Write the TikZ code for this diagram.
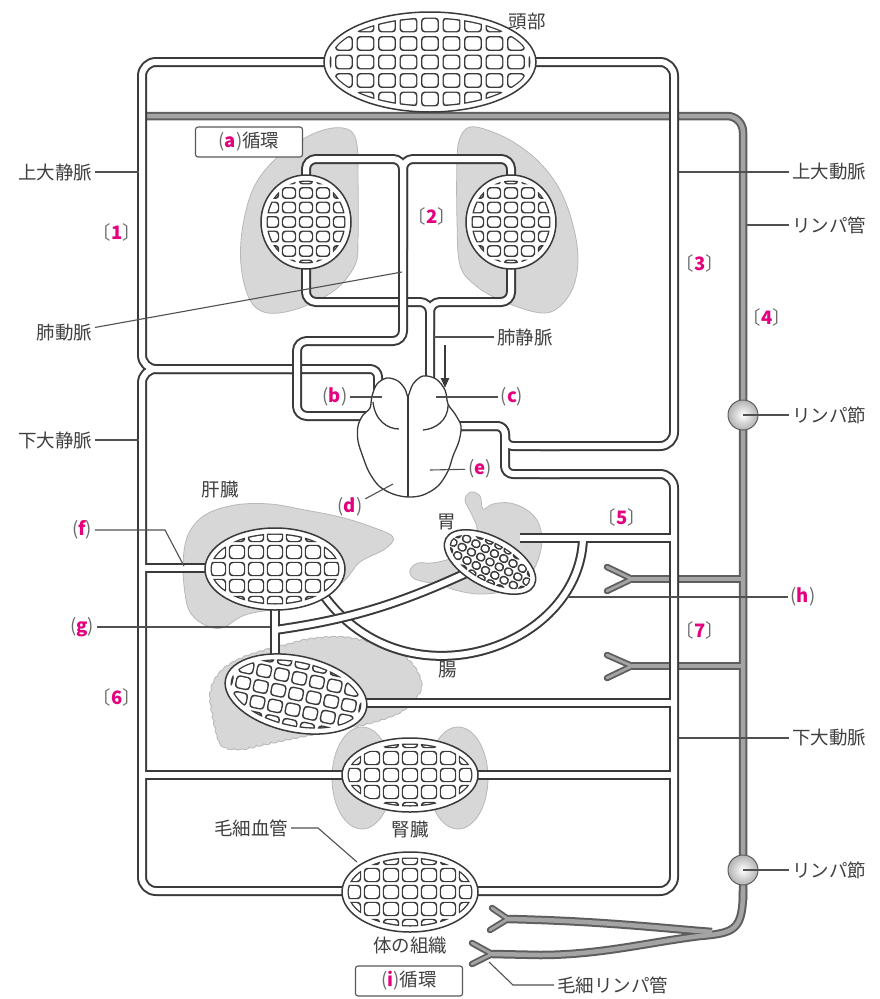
\documentclass[tikz,border=0pt]{standalone}
\usepackage{fontspec}
\newfontfamily\jp{Noto Sans CJK JP}
\usetikzlibrary{arrows.meta,decorations.pathmorphing}

\definecolor{ink}{HTML}{3A3A3A}
\definecolor{txt}{HTML}{404040}
\definecolor{brk}{HTML}{6A6A6A}
\definecolor{mag}{HTML}{E4007F}
\definecolor{organfill}{HTML}{D7D7D7}
\definecolor{organedge}{HTML}{B8B8B8}
\definecolor{lymphin}{HTML}{A4A4A4}
\definecolor{lymphout}{HTML}{5E5E5E}
\definecolor{leadc}{HTML}{505050}

\tikzset{
  tubeout/.style={draw=ink,line width=10pt,line join=round},
  tubein/.style={draw=white,line width=6pt,line join=round},
  lyout/.style={draw=lymphout,line width=8.5pt,line join=round},
  lyin/.style={draw=lymphin,line width=4.5pt,line join=round},
  armout/.style={draw=lymphout,line width=6.5pt,line cap=round,line join=round},
  armin/.style={draw=lymphin,line width=2.8pt,line cap=round,line join=round},
  organ/.style={fill=organfill,draw=organedge,line width=0.8pt},
  lead/.style={draw=leadc,line width=1.1pt},
  lbl/.style={font=\jp\fontsize{18.5}{20}\selectfont,text=txt,inner sep=0pt,outer sep=3pt},
  frame/.style={draw=ink!85,line width=1.1pt,rounded corners=2.5pt,fill=white,
    minimum width=107pt,minimum height=30pt,inner sep=0pt,
    font=\jp\fontsize{18.5}{20}\selectfont,text=txt},
  lnode/.style={circle,minimum size=30pt,inner sep=0pt,shading=radial,
    inner color=white,outer color=gray!60,draw=lymphout,line width=1pt},
}
% bracketed tag: grey brackets, magenta number
\newcommand\tg[1]{{\color{brk}〔}{\color{mag}\bfseries #1}{\color{brk}〕}}
\newcommand\lt[1]{{\color{brk}(}{\color{mag}\bfseries #1}{\color{brk})}}

% capillary bed: #1,#2 centre, #3 rotation, #4,#5 radii, #6,#7 pitch, #8,#9 cell size
\newcommand{\capnet}[9]{%
  \begin{scope}[shift={(#1,#2)},rotate=#3]
    \fill[white] (0,0) ellipse ({#4} and {#5});
    \begin{scope}
      \clip (0,0) ellipse ({#4-5.5} and {#5-5.5});
      \foreach \i in {-7,...,7}{\foreach \j in {-5,...,5}{
        \fill[ink,rounded corners=3.5pt] ({\i*#6-#8/2-0.7},{\j*#7-#9/2-0.7}) rectangle ++({#8+1.4},{#9+1.4});}}
    \end{scope}
    \begin{scope}
      \clip (0,0) ellipse ({#4-6.9} and {#5-6.9});
      \foreach \i in {-7,...,7}{\foreach \j in {-5,...,5}{
        \fill[white,rounded corners=3pt] ({\i*#6-#8/2+0.7},{\j*#7-#9/2+0.7}) rectangle ++({#8-1.4},{#9-1.4});}}
    \end{scope}
    \draw[ink,line width=1.5pt] (0,0) ellipse ({#4} and {#5});
  \end{scope}}

\begin{document}
\begin{tikzpicture}[x=1pt,y=-1pt]
\useasboundingbox (0,0) rectangle (879,999);
\fill[white] (0,0) rectangle (879,999);

% ---------- organs (grey) ----------
% lungs
\draw[organ] plot[smooth cycle,tension=0.6] coordinates {(343,128) (356,140) (358,180) (358,240) (355,265) (335,290) (300,308) (268,313) (250,300) (241,265) (243,225) (255,185) (280,155) (315,133)};
\draw[organ] plot[smooth cycle,tension=0.6] coordinates {(470,127) (490,131) (515,143) (540,163) (560,190) (573,225) (578,260) (572,290) (555,310) (535,312) (500,300) (475,285) (460,265) (457,220) (457,160) (460,138)};
% liver
\draw[organ] plot[smooth cycle,tension=0.6] coordinates {(186,600) (183,565) (188,535) (205,515) (235,505) (270,504) (305,510) (340,517) (372,527) (393,537) (385,549) (360,562) (345,580) (320,598) (280,608) (245,615) (222,628) (205,625) (192,615)};
% stomach
\draw[organ] plot[smooth cycle,tension=0.6] coordinates {(465,500) (471,492) (480,496) (483,509) (493,504) (510,503) (527,510) (538,522) (542,540) (538,560) (528,578) (510,590) (480,594) (455,590) (440,584) (425,582) (413,578) (410,570) (418,563) (432,563) (452,558) (468,546) (477,530) (472,515)};
% intestine
\draw[organ,decorate,decoration={bumps,segment length=15pt,amplitude=1.8pt}] plot[smooth cycle,tension=0.6] coordinates {(213,712) (212,690) (222,672) (240,660) (262,652) (285,646) (310,640) (340,638) (365,642) (385,648) (403,657) (415,670) (420,686) (412,700) (398,712) (370,722) (330,730) (290,738) (262,744) (240,748) (222,743)};
% kidney
\draw[organ] (362,778) ellipse (30 and 51);
\draw[organ] (458,778) ellipse (30 and 51);

% ---------- lymph vessels ----------
\foreach \a/\b in {lyout/armout,lyin/armin}{
  \draw[\a,rounded corners=16pt] (147,116) -- (743,116) -- (743,900);
  \draw[\a] (743,890) .. controls (743,930) and (735,933) .. (700,936) .. controls (650,942) and (600,955) .. (540,955) -- (492,954);
  \draw[\a] (712,932) .. controls (660,928) and (600,921) .. (508,919);
  \draw[\a] (743,579) -- (632,579);
  \draw[\a] (743,666) -- (632,666);
  \draw[\b] (607,567) -- (632,579) -- (607,591);
  \draw[\b] (607,655) -- (632,666) -- (607,678);
  \draw[\b] (492,908) -- (508,919) -- (490,930);
  \draw[\b] (472,943) -- (492,954) -- (472,964);
}

% ---------- pulmonary veins ----------
\foreach \st in {tubeout,tubein}{
  \draw[\st,rounded corners=10pt] (306,222) -- (306,302) -- (430,302) -- (430,392);
  \draw[\st,rounded corners=10pt] (511,222) -- (511,302) -- (430,302) -- (430,330);
}

% ---------- systemic circulation ----------
\foreach \st in {tubeout,tubein}{
  \draw[\st,rounded corners=14pt] (430,62) -- (142,62) -- (142,369) -- (300,369);
  \draw[\st,rounded corners=8pt] (290,369) -- (378,369) -- (378,395);
  \draw[\st,rounded corners=14pt] (300,369) -- (142,369) -- (142,891) -- (410,891);
  \draw[\st,rounded corners=8pt] (448,426) -- (505,426) -- (505,446) -- (560,446);
  \draw[\st,rounded corners=14pt] (540,446) -- (674,446) -- (674,62) -- (430,62);
  \draw[\st,rounded corners=8pt] (448,426) -- (505,426) -- (505,474) -- (560,474);
  \draw[\st,rounded corners=14pt] (540,474) -- (674,474) -- (674,891) -- (410,891);
  \draw[\st] (142,568) -- (275,568);
  \draw[\st] (142,775) -- (674,775);
  \draw[\st] (330,703) -- (674,703);
  \draw[\st] (520,538) -- (674,538);
  \draw[\st] (583,538) .. controls (580,650) and (400,710) .. (320,590);
  \draw[\st] (275,569) -- (275,696);
}

% ---------- pulmonary artery ----------
\foreach \st in {tubeout,tubein}{
  \draw[\st,rounded corners=10pt] (372,416) -- (297,416) -- (297,341) -- (403,341) -- (403,159) -- (306,159) -- (306,222);
  \draw[\st,rounded corners=10pt] (403,250) -- (403,159) -- (511,159) -- (511,222);
}

% ---------- stomach to portal vein ----------
\foreach \st in {tubeout,tubein}{
  \draw[\st] (275,630) .. controls (360,618) and (410,600) .. (490,562);
}
\draw[tubein] (275,600) -- (275,660);

% ---------- capillary beds ----------
\capnet{430}{62}{0}{106}{50}{21.5}{18.5}{16.5}{13.5}
\capnet{306}{222}{0}{45}{47}{17}{14.5}{13}{10.5}
\capnet{511}{222}{0}{45}{47}{17}{14.5}{13}{10.5}
\capnet{275}{569}{0}{70}{41}{19}{17}{15}{13}
\capnet{490}{562}{-28}{50}{25}{10.5}{9.5}{8}{7}
\capnet{296}{694}{-12}{72}{38}{18}{16}{14}{12}
\capnet{410}{775}{0}{68}{37}{19}{17}{15}{13}
\capnet{410}{892}{0}{68}{40}{19}{17}{15}{13}

% ---------- heart ----------
\draw[ink,line width=1.3pt,fill=white] plot[smooth cycle,tension=0.55] coordinates {(408,396) (413,384) (423,376) (436,379) (445,390) (448,404) (455,414) (461,426) (459,441) (453,456) (448,471) (438,486) (423,495) (408,497) (393,494) (379,486) (369,472) (363,457) (358,441) (358,426) (363,415) (370,408) (372,396) (377,384) (387,378) (398,381) (405,389)};
\draw[ink,line width=1.3pt] (408,396) -- (408,497);
\draw[ink,line width=1.3pt] (373,402) .. controls (375,421) and (388,429) .. (399,429);
\draw[ink,line width=1.3pt] (448,405) .. controls (448,421) and (435,429) .. (423,430);
\coordinate (arS) at (445,345);
\coordinate (arE) at (445,388);
\draw[ink,line width=2.3pt,-{Triangle[length=10pt,width=8pt]}] (arS) -- (arE);

% ---------- lymph nodes ----------
\node[lnode] (ln1) at (743,415) {};
\node[lnode] (ln2) at (743,870) {};

% ---------- labels ----------
\node[lbl] (head) at (527,22) {頭部};
\node[frame] (boxa) at (249,142) {\lt{a}循環};
\node[frame] (boxi) at (409,981) {\lt{i}循環};

\node[lbl,anchor=east] (lsvc) at (95,172) {上大静脈};
\coordinate (tsvc) at (139,172); \draw[lead] (lsvc) -- (tsvc);
\node[lbl,anchor=east] (livc) at (95,440) {下大静脈};
\coordinate (tivc) at (139,440); \draw[lead] (livc) -- (tivc);
\node[lbl,anchor=east] (lpa) at (95,333) {肺動脈};
\coordinate (tpa) at (402,272); \draw[lead] (lpa) -- (tpa);

\node[lbl,anchor=west] (rsa) at (789,172) {上大動脈};
\coordinate (tsa) at (679,172); \draw[lead] (tsa) -- (rsa);
\node[lbl,anchor=west] (rly) at (789,225) {リンパ管};
\coordinate (tly) at (747,225); \draw[lead] (tly) -- (rly);
\node[lbl,anchor=west] (rln1) at (789,415) {リンパ節};
\draw[lead] (ln1.center) -- (rln1);
\node[lbl,anchor=west] (rda) at (789,738) {下大動脈};
\coordinate (tda) at (679,738); \draw[lead] (tda) -- (rda);
\node[lbl,anchor=west] (rln2) at (789,870) {リンパ節};
\draw[lead] (ln2.center) -- (rln2);

\node[lbl,anchor=west] (lpv) at (494,337) {肺静脈};
\coordinate (tpv) at (434,337); \draw[lead] (tpv) -- (lpv);

\node[lbl] (tb) at (335,397) {\lt{b}};
\coordinate (ttb) at (382,397); \draw[lead] (tb) -- (ttb);
\node[lbl] (tc) at (512,397) {\lt{c}};
\coordinate (ttc) at (436,397); \draw[lead] (ttc) -- (tc);
\node[lbl] (te) at (480,469) {\lt{e}};
\coordinate (tte) at (430,470); \draw[lead] (tte) -- (te);
\node[lbl] (td) at (350,507) {\lt{d}};
\coordinate (ttd) at (393,484); \draw[lead] (td) -- (ttd);

\node[lbl] (tf) at (82,530) {\lt{f}};
\coordinate (tf1) at (165,530); \coordinate (tf2) at (184,566);
\draw[lead] (tf) -- (tf1) -- (tf2);
\node[lbl] (tgl) at (82,627) {\lt{g}};
\coordinate (tg1) at (270,627); \draw[lead] (tgl) -- (tg1);
\node[lbl] (th) at (803,597) {\lt{h}};
\coordinate (th1) at (567,597); \draw[lead] (th1) -- (th);

\node[lbl] (n1) at (117,232) {\tg{1}};
\node[lbl] (n2) at (432,216) {\tg{2}};
\node[lbl] (n3) at (700,263) {\tg{3}};
\node[lbl] (n4) at (767,317) {\tg{4}};
\node[lbl] (n5) at (622,517) {\tg{5}};
\node[lbl] (n6) at (117,697) {\tg{6}};
\node[lbl] (n7) at (700,630) {\tg{7}};

\node[lbl] (liver) at (220,490) {肝臓};
\node[lbl] (stom) at (447,522) {胃};
\node[lbl] (gut) at (448,670) {腸};
\node[lbl] (kid) at (410,830) {腎臓};
\node[lbl] (tis) at (410,946) {体の組織};

\node[lbl,anchor=east] (cap) at (291,828) {毛細血管};
\coordinate (tcap1) at (318,828); \coordinate (tcap2) at (357,862);
\draw[lead] (cap) -- (tcap1) -- (tcap2);

\node[lbl,anchor=west] (lcap) at (554,985) {毛細リンパ管};
\coordinate (tlc1) at (513,985); \coordinate (tlc2) at (489,962);
\draw[lead] (lcap) -- (tlc1) -- (tlc2);
\end{tikzpicture}
\end{document}
